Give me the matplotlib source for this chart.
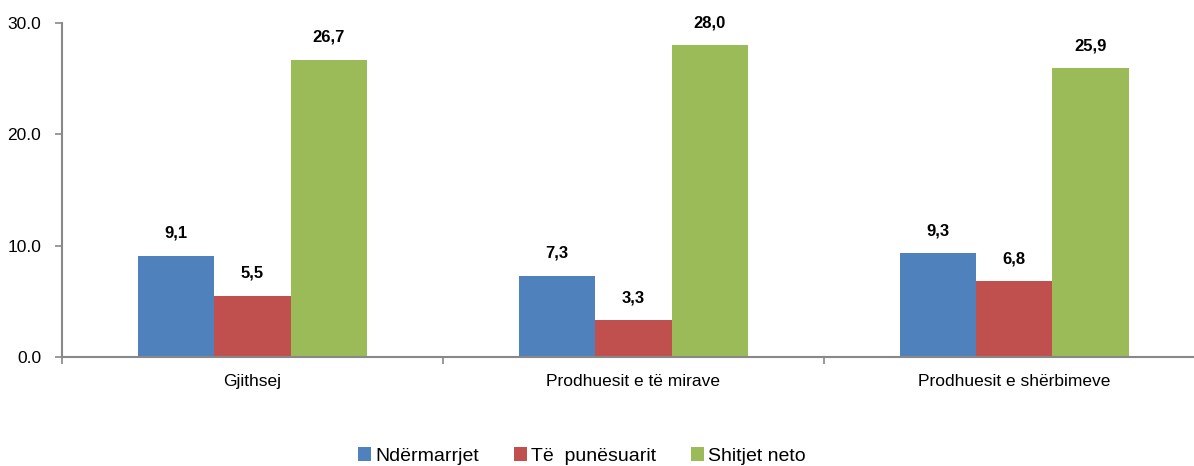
import numpy as np
import matplotlib.pyplot as plt

plt.rcParams['font.family'] = ['Liberation Sans', 'DejaVu Sans']

categories = ['Gjithsej', 'Prodhuesit e të mirave', 'Prodhuesit e shërbimeve']
series_names = ['Ndërmarrjet', 'Të  punësuarit', 'Shitjet neto']
ndermarrjet = [9.1, 7.3, 9.3]
punesuarit = [5.5, 3.3, 6.8]
shitjet = [26.7, 28.0, 25.9]
colors = ['#4f81bd', '#c0504d', '#9bbb59']

fig = plt.figure(figsize=(11.94, 4.66), dpi=100)
ax = fig.add_axes([0.052, 0.234, 0.957, 0.717])

x = np.arange(len(categories))
width = 0.2
for i, (vals, name, c) in enumerate(zip([ndermarrjet, punesuarit, shitjet], series_names, colors)):
    bars = ax.bar(x + (i - 1) * width, vals, width, color=c, label=name)
    for b, v in zip(bars, vals):
        ax.annotate(f'{v:.1f}'.replace('.', ','), (b.get_x() + b.get_width() / 2, v),
                    xytext=(0, 13), textcoords='offset points',
                    ha='center', va='baseline', fontsize=12, fontweight='bold')

ax.set_xlim(-0.5, len(categories) - 0.5)
ax.set_ylim(0, 30)
ax.set_yticks([0, 10, 20, 30])
ax.set_yticklabels(['0.0', '10.0', '20.0', '30.0'], fontsize=12.5)

# category labels centred, tick marks on the boundaries
ax.set_xticks(x)
ax.set_xticklabels(categories, fontsize=12.5)
ax.tick_params(axis='x', length=0, pad=12)
ax.set_xticks(np.arange(len(categories) + 1) - 0.5, minor=True)
ax.tick_params(axis='x', which='minor', length=5, color='#888888', width=1.2)
ax.tick_params(axis='y', length=5, color='#888888', width=1.2, pad=10)

for s in ['top', 'right']:
    ax.spines[s].set_visible(False)
for s in ['left', 'bottom']:
    ax.spines[s].set_color('#888888')
    ax.spines[s].set_linewidth(1.5)

fig.legend(loc='lower center', bbox_to_anchor=(0.4875, -0.035), ncol=3, frameon=False,
           fontsize=14, handlelength=0.67, handleheight=0.67, handletextpad=0.2,
           columnspacing=1.8)

fig.savefig('out.png', dpi=100)
